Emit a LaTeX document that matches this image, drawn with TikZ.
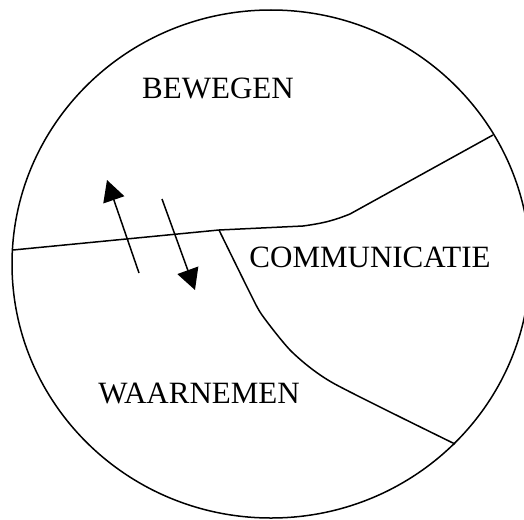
\documentclass[tikz,border=0pt]{standalone}
\usepackage{fontspec}
\setmainfont{Liberation Serif}
\usetikzlibrary{arrows.meta}
\begin{document}
\begin{tikzpicture}[x=1pt,y=-1pt,
  boundary/.style={line width=1.5pt,black},
  label/.style={font=\fontsize{31}{31}\selectfont,inner sep=0pt,anchor=base},
  movearrow/.style={line width=1.5pt,-{Triangle[length=21pt,width=22pt]}}]
\useasboundingbox (0,0) rectangle (524,519);
\fill[white] (0,0) rectangle (524,519);
\draw[boundary] (271,264) ellipse [x radius=259, y radius=254];
% dividing lines
\coordinate (l1) at (13,250);
\coordinate (j) at (219,230);
\coordinate (r1) at (493,135);
\coordinate (b1) at (455,444);
\draw[boundary] (l1) -- (j) -- (303,226) .. controls (325,223) and (335,220) .. (350,214) -- (r1);
\draw[boundary] plot[smooth,tension=0.4] coordinates {(219,230) (249,291) (262,315) (292,352) (333,383) (455,444)};
% arrows
\coordinate (a1s) at (139,273);
\coordinate (a1e) at (107,180);
\coordinate (a2s) at (162,199);
\coordinate (a2e) at (195,290);
\draw[movearrow] (a1s) -- (a1e);
\draw[movearrow] (a2s) -- (a2e);
% labels
\node[label] (bew) at (218,98) {BEWEGEN};
\node[label] (com) at (370,267) {COMMUNICATIE};
\node[label] (waa) at (199,403) {WAARNEMEN};
\end{tikzpicture}
\end{document}
